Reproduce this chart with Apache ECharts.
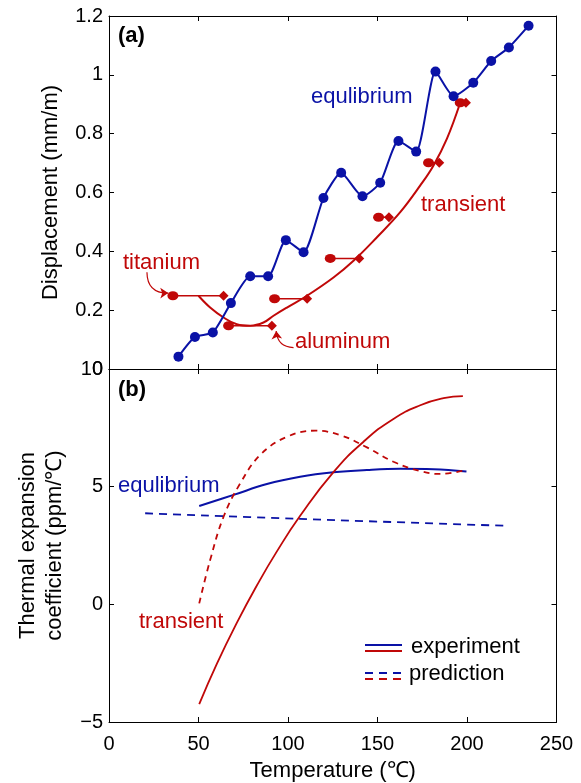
<!DOCTYPE html>
<html><head><meta charset="utf-8">
<script src="https://cdn.jsdelivr.net/npm/echarts@6/dist/echarts.min.js"></script>
<style>html,body{margin:0;padding:0;background:#fff}#c{width:581px;height:783px}</style>
</head><body><div id="c"></div>
<script>
// ---- Panel (a): displacement ----
const eqT = [38.8, 48.0, 58.0, 68.1, 78.9, 88.9, 98.8, 108.7, 119.8, 129.7, 141.6, 151.5, 161.7, 171.6, 182.4, 192.5, 203.5, 213.5, 223.4, 234.4];
const eqV = [0.042, 0.109, 0.124, 0.224, 0.315, 0.315, 0.438, 0.397, 0.581, 0.667, 0.587, 0.633, 0.775, 0.739, 1.011, 0.927, 0.973, 1.047, 1.093, 1.167];
const trT = [50.0, 56.5, 64.0, 71.4, 78.9, 86.3, 91.9, 99.4, 110.6, 125.4, 136.6, 149.7, 162.7, 173.9, 181.3, 188.8, 196.2];
const trV = [0.249, 0.209, 0.175, 0.152, 0.147, 0.158, 0.181, 0.209, 0.249, 0.311, 0.368, 0.448, 0.533, 0.624, 0.692, 0.783, 0.905];
const stepStartT = [35.7, 66.8, 92.5, 123.6, 150.6, 178.5, 196.2];
const stepEndT   = [64.0, 91.0, 110.7, 139.8, 156.4, 184.5, 199.4];
const stepV      = [0.249, 0.147, 0.239, 0.376, 0.516, 0.701, 0.905];
// ---- Panel (b): thermal expansion coefficient ----
const eqExpT = [50.4, 69.6, 88.2, 106.8, 125.4, 144.1, 162.7, 181.3, 199.7];
const eqExpV = [4.18, 4.65, 5.11, 5.42, 5.61, 5.71, 5.76, 5.74, 5.64];
const eqPredT = [20.2, 106.8, 220.4];
const eqPredV = [3.87, 3.63, 3.34];
const trExpT = [50.4, 60.3, 71.4, 82.6, 93.8, 106.8, 125.4, 142.2, 158.9, 173.9, 186.9, 197.7];
const trExpV = [-4.24, -2.52, -0.79, 0.80, 2.25, 3.76, 5.62, 6.91, 7.88, 8.46, 8.76, 8.85];
const trPredT = [50.4, 56.5, 64.0, 73.3, 84.5, 99.4, 115.2, 129.2, 144.1, 158.9, 173.9, 185.0, 198.0];
const trPredV = [0.04, 1.88, 3.72, 5.14, 6.35, 7.12, 7.38, 7.19, 6.67, 6.06, 5.66, 5.54, 5.68];
// ticks
const xTicks = [0, 50, 100, 150, 200, 250];
const yTicksA = [0, 0.2, 0.4, 0.6, 0.8, 1, 1.2];
const yTicksB = [-5, 0, 5, 10];

const BLUE = '#0a12a6', RED = '#c00808';
const FONT = '"Liberation Sans", Arial, Helvetica, sans-serif';
const zip = (a, b) => a.map((v, i) => [v, b[i]]);

const chart = echarts.init(document.getElementById('c'), null, {renderer: 'canvas'});

function xAx(grid, pos, labels) {
  return {
    type: 'value', gridIndex: grid, position: pos, min: xTicks[0], max: xTicks[xTicks.length-1], interval: xTicks[1] - xTicks[0],
    axisLine: {show: true, onZero: false, lineStyle: {color: '#000', width: 1}},
    axisTick: {show: true, inside: true, length: 5, lineStyle: {color: '#000'}},
    axisLabel: {show: labels, color: '#000', fontSize: 20, fontFamily: FONT, margin: 12},
    splitLine: {show: false},
    name: labels ? 'Temperature (\u2103)' : '', nameLocation: 'middle', nameGap: 38,
    nameTextStyle: {color: '#000', fontSize: 22, fontFamily: FONT}
  };
}
function yAx(grid, pos, labels, ticks, name) {
  return {
    type: 'value', gridIndex: grid, position: pos, min: ticks[0], max: ticks[ticks.length-1], interval: ticks[1] - ticks[0],
    axisLine: {show: true, onZero: false, lineStyle: {color: '#000', width: 1}},
    axisTick: {show: true, inside: true, length: 5, lineStyle: {color: '#000'}},
    axisLabel: {show: labels, color: '#000', fontSize: 20, fontFamily: FONT, margin: 6,
      formatter: v => String(+v.toFixed(4)).replace('-', '\u2212')},
    splitLine: {show: false},
    name: name || '', nameLocation: 'middle', nameGap: 41,
    nameTextStyle: {color: '#000', fontSize: 22, fontFamily: FONT, lineHeight: 27}
  };
}

const series = [];
// equilibrium displacement
series.push({type: 'line', xAxisIndex: 0, yAxisIndex: 0, data: zip(eqT, eqV), smooth: 0.2,
  symbol: 'circle', symbolSize: 10, showSymbol: true, lineStyle: {color: BLUE, width: 2},
  itemStyle: {color: BLUE}, z: 3, animation: false});
// transient displacement curve
series.push({type: 'line', xAxisIndex: 0, yAxisIndex: 0, data: zip(trT, trV), smooth: 0.4,
  showSymbol: false, lineStyle: {color: RED, width: 2}, z: 2, animation: false});
// step markers (circle start, diamond end)
stepV.forEach((v, i) => {
  series.push({type: 'line', xAxisIndex: 0, yAxisIndex: 0,
    data: [{value: [stepStartT[i], v], symbol: 'circle', symbolSize: [11, 9]},
           {value: [stepEndT[i], v], symbol: 'diamond', symbolSize: [10, 10]}],
    showSymbol: true, lineStyle: {color: RED, width: 1.5}, itemStyle: {color: RED}, z: 2, animation: false});
});
// annotation arrows
series.push({type: 'lines', coordinateSystem: 'cartesian2d', xAxisIndex: 0, yAxisIndex: 0,
  symbol: ['none', 'arrow'], symbolSize: 8,
  lineStyle: {color: RED, width: 1.2, curveness: -0.5, opacity: 1},
  data: [{coords: [[21.2, 0.329], [33.1, 0.258]]}], animation: false, silent: true});
series.push({type: 'lines', coordinateSystem: 'cartesian2d', xAxisIndex: 0, yAxisIndex: 0,
  symbol: ['none', 'arrow'], symbolSize: 8,
  lineStyle: {color: RED, width: 1.2, curveness: 0.45, opacity: 1},
  data: [{coords: [[103.1, 0.073], [93.4, 0.129]]}], animation: false, silent: true});
// panel b
series.push({type: 'line', xAxisIndex: 2, yAxisIndex: 2, data: zip(eqExpT, eqExpV), smooth: 0.4,
  showSymbol: false, lineStyle: {color: BLUE, width: 2}, animation: false});
series.push({type: 'line', xAxisIndex: 2, yAxisIndex: 2, data: zip(eqPredT, eqPredV), smooth: 0.4,
  showSymbol: false, lineStyle: {color: BLUE, width: 1.8, type: [8, 6]}, animation: false});
series.push({type: 'line', xAxisIndex: 2, yAxisIndex: 2, data: zip(trExpT, trExpV), smooth: 0.5,
  showSymbol: false, lineStyle: {color: RED, width: 1.8}, animation: false});
series.push({type: 'line', xAxisIndex: 2, yAxisIndex: 2, data: zip(trPredT, trPredV), smooth: 0.4,
  showSymbol: false, lineStyle: {color: RED, width: 1.8, type: [6, 5]}, animation: false});

const txt = (x, y, s, color, bold) => ({type: 'text', left: x, top: y - 12, z: 10,
  style: {text: s, fill: color, font: (bold ? 'bold ' : '') + '22px ' + FONT}});
const seg = (x1, x2, y, color, dash) => ({type: 'line', z: 10,
  shape: {x1: x1, y1: y, x2: x2, y2: y}, style: {stroke: color, lineWidth: 2, lineDash: dash || null}});

chart.setOption({
  animation: false,
  backgroundColor: '#fff',
  grid: [
    {left: 109, top: 16, width: 447.5, height: 353},
    {left: 109, top: 369, width: 447.5, height: 353}
  ],
  xAxis: [xAx(0, 'bottom', false), xAx(0, 'top', false), xAx(1, 'bottom', true), xAx(1, 'top', false)],
  yAxis: [
    yAx(0, 'left', true, yTicksA, 'Displacement (mm/m)'), yAx(0, 'right', false, yTicksA),
    yAx(1, 'left', true, yTicksB, 'Thermal expansion\ncoefficient (ppm/\u2103)'), yAx(1, 'right', false, yTicksB)
  ],
  series: series,
  graphic: [
    txt(118, 37, '(a)', '#000', true),
    txt(118, 391, '(b)', '#000', true),
    txt(311, 98, 'equlibrium', BLUE),
    txt(421, 206, 'transient', RED),
    txt(123, 264, 'titanium', RED),
    txt(295, 343, 'aluminum', RED),
    txt(118, 487, 'equlibrium', BLUE),
    txt(139, 623, 'transient', RED),
    seg(365, 402, 645, BLUE), seg(365, 402, 651, RED),
    seg(365, 402, 673, BLUE, [8, 6]), seg(365, 402, 679, RED, [8, 6]),
    txt(411, 648, 'experiment', '#000'),
    txt(409, 675, 'prediction', '#000')
  ]
});
</script></body></html>
